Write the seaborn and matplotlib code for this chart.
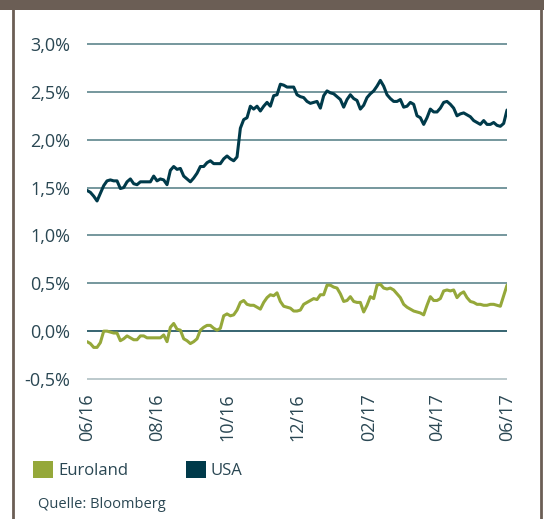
import pandas as pd
import seaborn as sns
import matplotlib.pyplot as plt
from matplotlib.patches import Patch, Rectangle
from matplotlib.lines import Line2D

usa = [
    1.47, 1.45, 1.41, 1.36, 1.44, 1.52, 1.57, 1.58, 1.57, 1.57,
    1.49, 1.50, 1.56, 1.59, 1.54, 1.53, 1.56, 1.56, 1.56, 1.56,
    1.62, 1.57, 1.59, 1.58, 1.53, 1.68, 1.72, 1.69, 1.70, 1.62,
    1.59, 1.56, 1.60, 1.65, 1.72, 1.72, 1.76, 1.78, 1.75, 1.75,
    1.75, 1.80, 1.83, 1.80, 1.78, 1.82, 2.12, 2.21, 2.23, 2.35,
    2.32, 2.35, 2.30, 2.35, 2.39, 2.35, 2.46, 2.47, 2.58, 2.57,
    2.55, 2.55, 2.55, 2.47,
    2.45, 2.44, 2.40, 2.38, 2.39, 2.40, 2.33, 2.46, 2.51, 2.49,
    2.48, 2.45, 2.42, 2.34, 2.42, 2.47, 2.43, 2.41, 2.32, 2.36,
    2.44, 2.48, 2.51, 2.56, 2.62, 2.56, 2.47, 2.43, 2.40, 2.40,
    2.42, 2.34, 2.35, 2.39, 2.37, 2.25, 2.23, 2.16, 2.23, 2.32,
    2.29, 2.29, 2.33, 2.39, 2.40, 2.37, 2.33, 2.25, 2.27, 2.28,
    2.26, 2.24, 2.20, 2.18, 2.16, 2.20, 2.16, 2.16, 2.18, 2.15,
    2.14, 2.17, 2.31,
]

euroland = [
    -0.11, -0.13, -0.17, -0.17, -0.12, 0.00, 0.00, -0.01, -0.02, -0.02,
    -0.10, -0.08, -0.05, -0.07, -0.09, -0.09, -0.05, -0.05, -0.07, -0.07,
    -0.07, -0.07, -0.07, -0.04, -0.11, 0.04, 0.08, 0.02, 0.01, -0.08,
    -0.10, -0.13, -0.11, -0.08, 0.01, 0.04, 0.06, 0.06, 0.03, 0.01,
    0.03, 0.16, 0.18, 0.16, 0.17, 0.22, 0.30, 0.32, 0.28, 0.27,
    0.27, 0.25, 0.23, 0.30, 0.35, 0.38, 0.37, 0.40, 0.31, 0.26,
    0.25, 0.24, 0.21, 0.21,
    0.22, 0.28, 0.30, 0.32, 0.34, 0.33, 0.38, 0.38, 0.48, 0.48,
    0.46, 0.45, 0.39, 0.31, 0.32, 0.36, 0.31, 0.30, 0.30, 0.20,
    0.27, 0.36, 0.34, 0.48, 0.49, 0.45, 0.44, 0.45, 0.43, 0.39,
    0.35, 0.28, 0.25, 0.23, 0.21, 0.20, 0.19, 0.17, 0.27, 0.36,
    0.32, 0.32, 0.34, 0.42, 0.43, 0.42, 0.43, 0.35, 0.39, 0.41,
    0.35, 0.31, 0.30, 0.28, 0.28, 0.27, 0.27, 0.28, 0.28, 0.27,
    0.26, 0.37, 0.48,
]

tick_dates = ["2016-06-01", "2016-08-01", "2016-10-01", "2016-12-01",
              "2017-02-01", "2017-04-01", "2017-06-01"]
tick_labels = ["06/16", "08/16", "10/16", "12/16", "02/17", "04/17", "06/17"]
y_ticks = [-0.5, 0.0, 0.5, 1.0, 1.5, 2.0, 2.5, 3.0]

dates = pd.date_range("2016-06-01", "2017-06-01", periods=len(usa))
df = pd.DataFrame({"Datum": dates, "Euroland": euroland, "USA": usa})
long_df = df.melt(id_vars="Datum", var_name="Region", value_name="Rendite")

green = "#95a83a"
navy = "#003a4a"
text_col = "#2a4753"
frame_col = "#6b5e55"

sns.set_style("white")
plt.rcParams["font.family"] = ["Open Sans", "DejaVu Sans"]

fig = plt.figure(figsize=(5.44, 5.19), dpi=100)
ax = fig.add_axes([0.16, 0.2661, 0.772, 0.6528])

# gridlines drawn first so the series sit on top
for v in y_ticks:
    if v == 0.0:
        c = navy
    elif v == -0.5:
        c = "#a9bbbe"
    else:
        c = "#4f7b82"
    ax.axhline(v, color=c, lw=1.1, zorder=1)

sns.lineplot(data=long_df, x="Datum", y="Rendite", hue="Region",
             palette={"Euroland": green, "USA": navy}, linewidth=2.2,
             legend=False, ax=ax, zorder=3)

ax.set_xlim(pd.Timestamp("2016-06-01"), pd.Timestamp("2017-06-01"))
ax.set_ylim(-0.52, 3.02)
ax.set_yticks(y_ticks)
ax.set_yticklabels([f"{v:.1f}%".replace(".", ",") for v in y_ticks])
ax.set_xticks(pd.to_datetime(tick_dates))
ax.set_xticklabels(tick_labels, rotation=90)
ax.tick_params(axis="y", length=0, pad=12, labelsize=13, labelcolor=text_col)
ax.tick_params(axis="x", length=0, pad=9, labelsize=13, labelcolor=text_col)
ax.set_xlabel("")
ax.set_ylabel("")
sns.despine(ax=ax, left=True, bottom=True)

# brown frame
fig.add_artist(Rectangle((0, 1 - 10 / 519), 1, 10 / 519, transform=fig.transFigure,
                         color=frame_col, lw=0))
fig.add_artist(Line2D([12.5 / 544, 12.5 / 544], [0, 1], transform=fig.transFigure,
                      color=frame_col, lw=2))
fig.add_artist(Line2D([541 / 544, 541 / 544], [0, 1], transform=fig.transFigure,
                      color=frame_col, lw=2))

handles = [Patch(facecolor=green, edgecolor="none", label="Euroland"),
           Patch(facecolor=navy, edgecolor="none", label="USA")]
fig.legend(handles=handles, loc="center left", bbox_to_anchor=(0.034, 0.095),
           ncol=2, frameon=False, fontsize=12, handlelength=1.2, handleheight=1.2,
           handletextpad=0.3, columnspacing=3.45, labelcolor=text_col)

fig.text(38 / 544, 1 - 505 / 519, "Quelle: Bloomberg", fontsize=10.5,
         color=text_col, va="center", ha="left")

fig.savefig("out.png", dpi=100)
